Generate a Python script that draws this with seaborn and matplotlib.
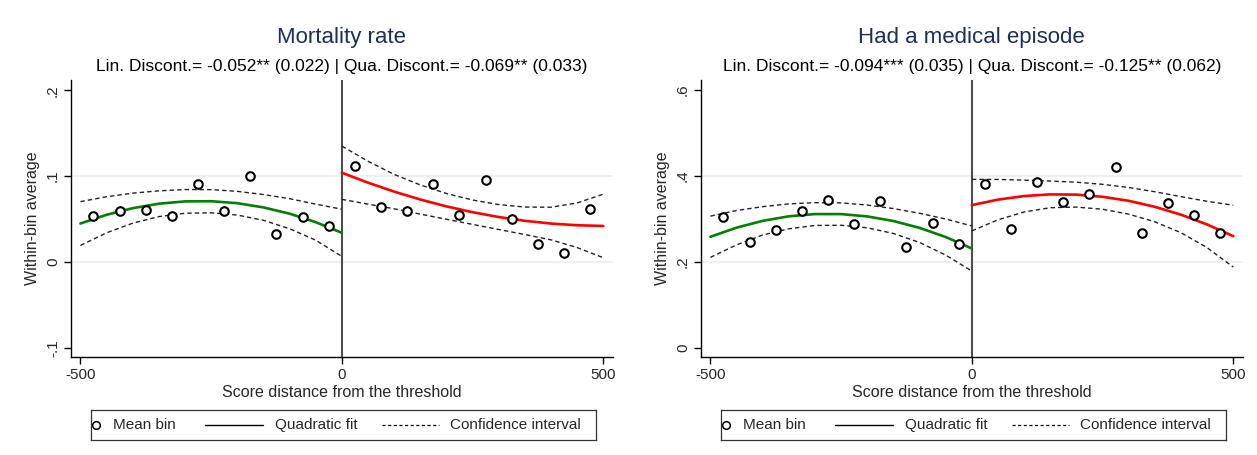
import numpy as np
import pandas as pd
import matplotlib
matplotlib.use("Agg")
import matplotlib.pyplot as plt
import seaborn as sns

sns.set_theme(style="ticks")
plt.rcParams['font.family'] = ['Liberation Sans', 'DejaVu Sans']

# ---------------- data ----------------
bins_left = [-475, -425, -375, -325, -275, -225, -175, -125, -75, -25]
bins_right = [25, 75, 125, 175, 225, 275, 325, 375, 425, 475]
grid_left = [-500, -450, -400, -350, -300, -250, -200, -150, -100, -50, 0]
grid_right = [0, 50, 100, 150, 200, 250, 300, 350, 400, 450, 500]

# Panel 1: Mortality rate
mort_pts_left = [0.0533, 0.059, 0.060, 0.054, 0.091, 0.059, 0.100, 0.0327, 0.053, 0.0416]
mort_pts_right = [0.112, 0.0646, 0.059, 0.091, 0.055, 0.095, 0.050, 0.0206, 0.011, 0.062]
mort_fit_left = [0.0448, 0.0550, 0.0627, 0.0679, 0.0706, 0.0708, 0.0685, 0.0636, 0.0563, 0.0464, 0.034]
mort_hi_left = [0.0703, 0.0760, 0.0802, 0.0829, 0.0844, 0.0843, 0.0823, 0.0786, 0.0738, 0.0674, 0.0615]
mort_lo_left = [0.0193, 0.0340, 0.0452, 0.0529, 0.0568, 0.0573, 0.0547, 0.0486, 0.0388, 0.0254, 0.0065]
mort_fit_right = [0.104, 0.0924, 0.0820, 0.0728, 0.0648, 0.0580, 0.0524, 0.0480, 0.0448, 0.0428, 0.0420]
mort_hi_right = [0.135, 0.1174, 0.1020, 0.0898, 0.0798, 0.0722, 0.0669, 0.0640, 0.0638, 0.0688, 0.079]
mort_lo_right = [0.073, 0.0674, 0.0620, 0.0558, 0.0498, 0.0438, 0.0379, 0.0320, 0.0258, 0.0168, 0.005]

# Panel 2: Had a medical episode
med_pts_left = [0.3044, 0.2447, 0.2734, 0.3177, 0.3434, 0.2874, 0.341, 0.2338, 0.2905, 0.2408]
med_pts_right = [0.3807, 0.275, 0.386, 0.338, 0.3566, 0.4196, 0.2657, 0.3357, 0.3084, 0.2672]
med_fit_left = [0.2580, 0.2792, 0.2951, 0.3056, 0.3109, 0.3108, 0.3054, 0.2947, 0.2787, 0.2574, 0.2307]
med_hi_left = [0.306, 0.3192, 0.3281, 0.3346, 0.3374, 0.3368, 0.3319, 0.3237, 0.3127, 0.2994, 0.2832]
med_lo_left = [0.210, 0.2392, 0.2621, 0.2766, 0.2844, 0.2848, 0.2789, 0.2657, 0.2447, 0.2154, 0.1782]
med_fit_right = [0.3317, 0.3445, 0.3528, 0.3567, 0.3561, 0.3511, 0.3417, 0.3278, 0.3094, 0.2866, 0.2594]
med_hi_right = [0.3917, 0.3915, 0.3898, 0.3877, 0.3851, 0.3801, 0.3727, 0.3628, 0.3514, 0.3406, 0.3314]
med_lo_right = [0.2717, 0.2975, 0.3158, 0.3257, 0.3271, 0.3221, 0.3107, 0.2928, 0.2674, 0.2326, 0.1874]

titles = ["Mortality rate", "Had a medical episode"]
subtitles = ["Lin. Discont.= -0.052** (0.022) | Qua. Discont.= -0.069** (0.033)",
             "Lin. Discont.= -0.094*** (0.035) | Qua. Discont.= -0.125** (0.062)"]
yticks_list = [[-0.1, 0.0, 0.1, 0.2], [0.0, 0.2, 0.4, 0.6]]
yticklabels_list = [["-.1", "0", ".1", ".2"], ["0", ".2", ".4", ".6"]]
grid_list = [[0.0, 0.1], [0.2, 0.4]]
xticks = [-500, 0, 500]
xticklabels = ["-500", "0", "500"]
legend_labels = ["Mean bin", "Quadratic fit", "Confidence interval"]

panels = [
    dict(pl=mort_pts_left, pr=mort_pts_right, fl=mort_fit_left, hl=mort_hi_left, ll=mort_lo_left,
         fr=mort_fit_right, hr=mort_hi_right, lr=mort_lo_right, ylim=(-0.111, 0.212)),
    dict(pl=med_pts_left, pr=med_pts_right, fl=med_fit_left, hl=med_hi_left, ll=med_lo_left,
         fr=med_fit_right, hr=med_hi_right, lr=med_lo_right, ylim=(-0.0226, 0.623)),
]

# ---------------- figure ----------------
W, H = 1257, 455
fig = plt.figure(figsize=(W / 100, H / 100), dpi=100)
fig.patch.set_facecolor("white")

ax_left_px = [71, 701]
ax_w_px = 541.7
ax_top_px, ax_bot_px = 80, 357.3

dash = (0, (3.2, 2.2))
title_color = "#1a2f5a"

for i, p in enumerate(panels):
    x0 = ax_left_px[i]
    ax = fig.add_axes([x0 / W, 1 - ax_bot_px / H, ax_w_px / W, (ax_bot_px - ax_top_px) / H])
    ax.set_facecolor("white")

    for g in grid_list[i]:
        ax.axhline(g, color="#e6eef2", lw=1.2, zorder=0)
    ax.axvline(0, color="#4d4d4d", lw=1.5, zorder=1)

    df_pts = pd.DataFrame({"x": bins_left + bins_right, "y": p["pl"] + p["pr"]})
    dfl = pd.DataFrame({"x": grid_left, "fit": p["fl"], "hi": p["hl"], "lo": p["ll"]})
    dfr = pd.DataFrame({"x": grid_right, "fit": p["fr"], "hi": p["hr"], "lo": p["lr"]})

    for d, col in ((dfl, "#008000"), (dfr, "#ff0000")):
        sns.lineplot(data=d, x="x", y="hi", ax=ax, color="#222222", lw=1.0, linestyle=dash,
                     errorbar=None, zorder=2)
        sns.lineplot(data=d, x="x", y="lo", ax=ax, color="#222222", lw=1.0, linestyle=dash,
                     errorbar=None, zorder=2)
        sns.lineplot(data=d, x="x", y="fit", ax=ax, color=col, lw=1.9, errorbar=None, zorder=3)

    sns.scatterplot(data=df_pts, x="x", y="y", ax=ax, marker="o", s=38, facecolor="white",
                    edgecolor="black", linewidth=1.5, zorder=5)

    ax.set_xlim(-518, 518)
    ax.set_ylim(*p["ylim"])
    ax.set_xticks(xticks)
    ax.set_xticklabels(xticklabels, fontsize=11)
    ax.set_yticks(yticks_list[i])
    ax.set_yticklabels(yticklabels_list[i], rotation=90, va="center", fontsize=11)
    ax.tick_params(direction="out", length=5, width=1, color="black", pad=3,
                   bottom=True, left=True)
    ax.set_xlabel("Score distance from the threshold", fontsize=11.5, labelpad=2)
    ax.set_ylabel("Within-bin average", fontsize=11.5, labelpad=4)
    for s in ("top", "right"):
        ax.spines[s].set_visible(False)
    for s in ("left", "bottom"):
        ax.spines[s].set_color("black")
        ax.spines[s].set_linewidth(1.0)

    cx = (x0 + ax_w_px / 2) / W
    fig.text(cx, 1 - 38 / H, titles[i], ha="center", va="center", fontsize=16, color=title_color)
    fig.text(cx, 1 - 66 / H, subtitles[i], ha="center", va="center", fontsize=12.5, color="black")

    # legend box below the panel
    lx0, lx1, ly0, ly1 = x0 + 20, x0 + 524.7, 410, 440
    lax = fig.add_axes([lx0 / W, 1 - ly1 / H, (lx1 - lx0) / W, (ly1 - ly0) / H])
    lax.set_xlim(0, lx1 - lx0)
    lax.set_ylim(0, ly1 - ly0)
    lax.set_xticks([])
    lax.set_yticks([])
    lax.set_facecolor("white")
    for s in lax.spines.values():
        s.set_color("#333333")
        s.set_linewidth(0.9)
    lax.plot([5], [15], marker="o", ms=5.5, mfc="white", mec="black", mew=1.1, ls="none")
    lax.text(22, 15, legend_labels[0], va="center", ha="left", fontsize=11)
    lax.plot([114, 172], [15, 15], color="black", lw=1.0)
    lax.text(184, 15, legend_labels[1], va="center", ha="left", fontsize=11)
    lax.plot([291, 348], [15, 15], color="black", lw=0.9, linestyle=(0, (2.5, 2.0)))
    lax.text(359, 15, legend_labels[2], va="center", ha="left", fontsize=11)

fig.savefig("out.png", dpi=100, facecolor="white")
